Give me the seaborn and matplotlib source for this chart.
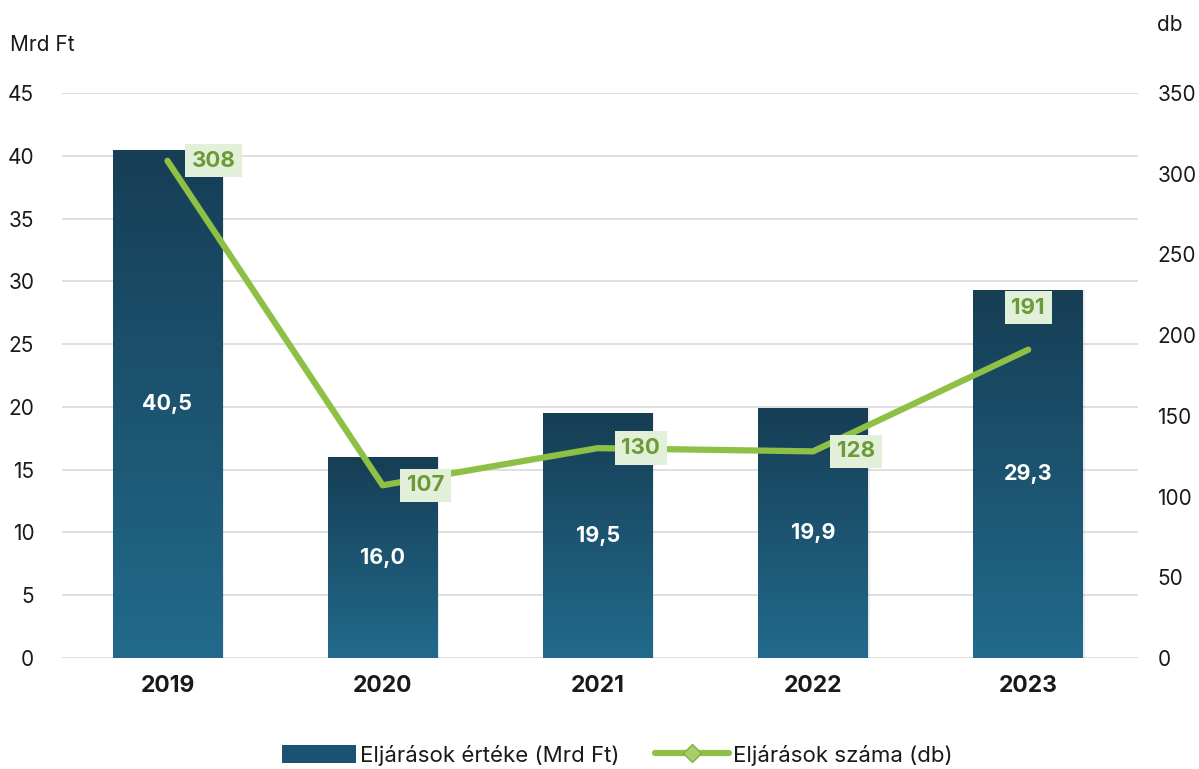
import matplotlib
matplotlib.use("Agg")
import matplotlib.pyplot as plt
import seaborn as sns
import numpy as np
import pandas as pd
from matplotlib.lines import Line2D
from matplotlib.patches import Patch
from matplotlib.colors import LinearSegmentedColormap

years = ["2019", "2020", "2021", "2022", "2023"]
values_mrd = [40.5, 16.0, 19.5, 19.9, 29.3]
counts_db = [308, 107, 130, 128, 191]
bar_labels = ["40,5", "16,0", "19,5", "19,9", "29,3"]

sns.set_theme(style="white")
plt.rcParams['font.family'] = ['Inter', 'DejaVu Sans']

df = pd.DataFrame({"year": years, "value": values_mrd, "count": counts_db})

fig = plt.figure(figsize=(11.99, 7.69), dpi=100)
ax = fig.add_axes([62/1199, 1 - 658/769, (1138-62)/1199, (658-93)/769])

sns.barplot(data=df, x="year", y="value", ax=ax, width=0.51, color="#1b5272",
            saturation=1, edgecolor="none", zorder=2)

grad = np.linspace(0, 1, 256).reshape(-1, 1)
cmap = LinearSegmentedColormap.from_list("g", ["#226a8c", "#163e55"])
for p in list(ax.patches):
    x0, y0 = p.get_x(), p.get_y()
    w, h = p.get_width(), p.get_height()
    sh = plt.Rectangle((x0 + 0.008, y0), w, h, facecolor="#000000", alpha=0.07,
                       zorder=1.5, edgecolor="none")
    ax.add_patch(sh)
    im = ax.imshow(grad, extent=[x0, x0 + w, y0, y0 + h], origin="lower", cmap=cmap,
                   aspect="auto", zorder=2.1)
    im.set_clip_path(p)

for i, (v, lab) in enumerate(zip(values_mrd, bar_labels)):
    ax.text(i, v / 2, lab, ha="center", va="center", color="white",
            fontsize=15.5, fontweight="bold", zorder=5)

ax.set_xlim(-0.49, 4.51)
ax.set_ylim(0, 45)
ax.set_yticks(np.arange(0, 46, 5))
ax.yaxis.grid(True, color="#d9d9d9", linewidth=1.2, zorder=0)
ax.set_axisbelow(True)
for s in ax.spines.values():
    s.set_visible(False)
ax.set_xlabel("")
ax.set_ylabel("")
ax.tick_params(axis="y", length=0, labelsize=15, labelcolor="#1a1a1a", pad=20)
ax.tick_params(axis="x", length=0, labelsize=16.5, labelcolor="#1a1a1a", pad=12)
for t in ax.get_xticklabels():
    t.set_fontweight("bold")

ax2 = ax.twinx()
sns.lineplot(x=np.arange(len(years)), y=counts_db, ax=ax2, color="#8dc045",
             linewidth=4.5, zorder=4, solid_capstyle="round")
ax2.set_ylim(0, 350)
ax2.set_yticks(np.arange(0, 351, 50))
for s in ax2.spines.values():
    s.set_visible(False)
ax2.tick_params(axis="y", length=0, labelsize=15, labelcolor="#1a1a1a", pad=14)
ax2.set_ylabel("")
ax2.grid(False)

offsets = [(46, 0), (43, 0), (43, 0), (43, 0), (0, 42)]
for i, (c, off) in enumerate(zip(counts_db, offsets)):
    ax2.annotate(str(c), (i, c), xytext=off, textcoords="offset pixels",
                 ha="center", va="center", color="#6b9a36", fontsize=16, fontweight="bold",
                 bbox=dict(boxstyle="square,pad=0.3", facecolor="#e2efd9", edgecolor="none"),
                 zorder=6)

fig.text(10/1199, 1 - 45/769, "Mrd Ft", fontsize=15, color="#1a1a1a", ha="left", va="center")
fig.text(1170/1199, 1 - 25/769, "db", fontsize=15, color="#1a1a1a", ha="center", va="center")

handles = [Patch(facecolor="#1b5272", edgecolor="none"),
           Line2D([0], [0], color="#8dc045", linewidth=4.5, marker="D", markersize=9,
                  markerfacecolor="#a6cf6a", markeredgecolor="#7fb040")]
fig.legend(handles, ["Eljárások értéke (Mrd Ft)", "Eljárások száma (db)"],
           loc="center", bbox_to_anchor=(0.515, 1 - 755/769), ncol=2, frameon=False,
           fontsize=16, handlelength=3.3, handleheight=0.9, handletextpad=0.2,
           columnspacing=1.6, labelcolor="#1a1a1a")

fig.savefig("out.png", dpi=100)
